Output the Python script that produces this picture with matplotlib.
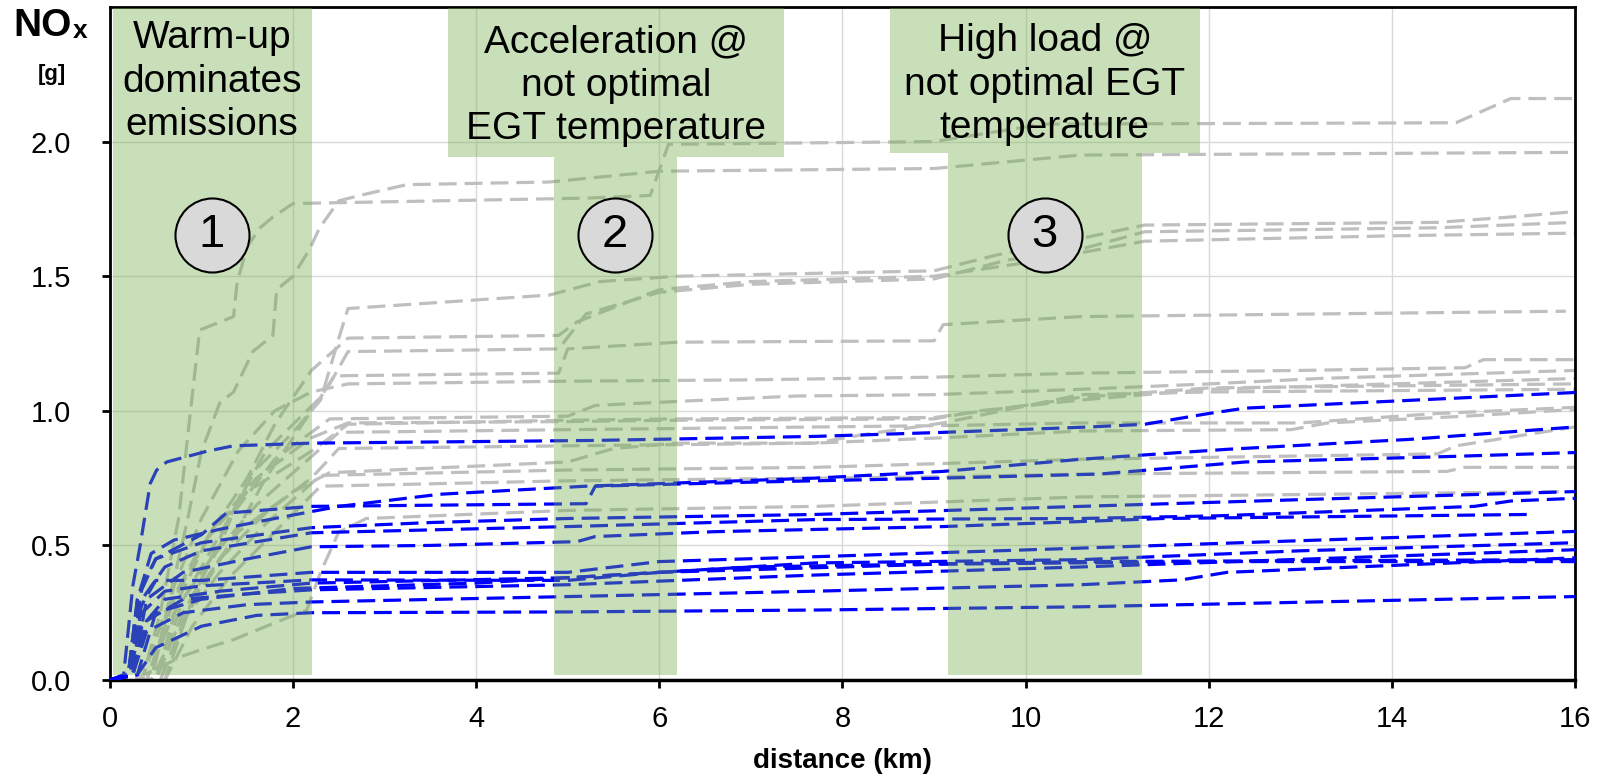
import matplotlib.pyplot as plt
from matplotlib.patches import Rectangle

plt.rcParams['font.family'] = ['Liberation Sans', 'DejaVu Sans']

# Data: cumulative NOx (g) vs distance (km), one list of (km, g) points per trip
gray_runs = [
    [(0, 0), (0.35, 0), (0.55, 0.25), (0.75, 0.6), (0.87, 0.97), (0.98, 1.30), (1.35, 1.35), (1.39, 1.48),
     (1.5, 1.61), (1.64, 1.68), (1.78, 1.72), (2.0, 1.77), (5.2, 1.79), (5.9, 1.80), (6.1, 1.99), (9.0, 2.0),
     (10.2, 2.065), (14.7, 2.07), (15.3, 2.16), (16, 2.16)],
    [(0, 0), (0.45, 0), (0.65, 0.3), (0.85, 0.6), (1.0, 0.85), (1.2, 1.03), (1.35, 1.07), (1.56, 1.22),
     (1.78, 1.28), (1.82, 1.45), (2.0, 1.50), (2.18, 1.60), (2.29, 1.68), (2.5, 1.78), (2.73, 1.80),
     (3.24, 1.84), (4.8, 1.85), (6.0, 1.89), (9.0, 1.90), (10.6, 1.95), (16, 1.96)],
    [(0, 0), (0.5, 0), (0.75, 0.3), (1.1, 0.55), (1.5, 0.75), (2.0, 0.92), (2.3, 1.04), (2.5, 1.27),
     (2.6, 1.38), (4.8, 1.43), (5.35, 1.48), (6.2, 1.50), (9.0, 1.52), (9.7, 1.58), (10.6, 1.64),
     (11.3, 1.69), (14.5, 1.70), (15.3, 1.72), (16, 1.74)],
    [(0, 0), (0.5, 0), (0.8, 0.25), (1.2, 0.5), (1.5, 0.75), (1.8, 0.95), (2.2, 1.15), (2.6, 1.27),
     (4.9, 1.28), (5.1, 1.33), (6.0, 1.45), (7, 1.48), (9.0, 1.50), (10.0, 1.55), (11.3, 1.63),
     (14, 1.65), (16, 1.66)],
    [(0, 0), (0.55, 0), (0.85, 0.25), (1.3, 0.5), (1.7, 0.75), (2.1, 0.95), (2.4, 1.10), (2.6, 1.22),
     (4.9, 1.23), (5.2, 1.36), (6.0, 1.44), (7, 1.47), (9.0, 1.49), (9.8, 1.56), (10.6, 1.60),
     (11.3, 1.665), (14.5, 1.68), (16, 1.70)],
    [(0, 0), (0.6, 0), (0.9, 0.3), (1.3, 0.6), (1.7, 0.85), (2.0, 0.95), (2.3, 1.05), (2.45, 1.13),
     (4.9, 1.14), (5.0, 1.23), (6.2, 1.255), (9.0, 1.26), (9.1, 1.32), (10.6, 1.35), (15.9, 1.37)],
    [(0, 0), (0.45, 0), (0.7, 0.35), (1.0, 0.6), (1.4, 0.85), (1.8, 1.0), (2.2, 1.07), (2.6, 1.10),
     (5, 1.11), (7, 1.115), (9, 1.125), (10.6, 1.14), (13, 1.15), (14.8, 1.16), (15.0, 1.19), (16, 1.19)],
    [(0, 0), (0.5, 0), (0.8, 0.3), (1.3, 0.6), (1.8, 0.82), (2.2, 0.92), (2.4, 0.97), (5.0, 0.98),
     (5.3, 1.02), (6.2, 1.035), (7.5, 1.055), (9, 1.06), (10.6, 1.08), (12, 1.10), (13.2, 1.12), (16, 1.15)],
    [(0, 0), (0.4, 0), (0.7, 0.3), (1.1, 0.55), (1.6, 0.75), (2.2, 0.9), (2.6, 0.955), (5, 0.96),
     (6.2, 0.965), (9, 0.97), (9.5, 1.0), (10.6, 1.04), (12, 1.08), (14, 1.10), (16, 1.12)],
    [(0, 0), (0.35, 0), (0.6, 0.25), (1.0, 0.5), (1.5, 0.7), (2.2, 0.85), (2.6, 0.95), (5, 0.965),
     (6.2, 0.97), (9, 0.975), (10, 1.02), (10.6, 1.05), (12, 1.085), (16, 1.10)],
    [(0, 0), (0.55, 0), (0.9, 0.3), (1.4, 0.55), (2.0, 0.7), (2.4, 0.77), (5.0, 0.81), (5.5, 0.86),
     (6.2, 0.88), (7.7, 0.88), (8.2, 0.91), (9.1, 0.955), (10.6, 1.06), (12, 1.07), (16, 1.08)],
    [(0, 0), (0.4, 0), (0.7, 0.25), (1.1, 0.45), (1.6, 0.65), (2.1, 0.8), (2.5, 0.92), (5, 0.93),
     (9.1, 0.945), (10.6, 0.955), (13, 0.955), (14.5, 0.99), (16, 1.013)],
    [(0, 0), (0.5, 0), (0.8, 0.25), (1.2, 0.45), (1.7, 0.62), (2.2, 0.75), (2.5, 0.86), (5, 0.87),
     (7.7, 0.88), (9.1, 0.90), (10.6, 0.925), (12.9, 0.93), (13.3, 0.955), (14.8, 0.98), (16, 1.005)],
    [(0, 0), (0.45, 0), (0.75, 0.2), (1.2, 0.4), (1.7, 0.58), (2.3, 0.76), (5, 0.78), (7.7, 0.79),
     (10.6, 0.82), (14.5, 0.84), (14.7, 0.87), (16, 0.94)],
    [(0, 0), (0.6, 0), (0.9, 0.2), (1.3, 0.38), (1.8, 0.55), (2.3, 0.72), (5, 0.74), (9.1, 0.755),
     (10.6, 0.765), (14.6, 0.775), (14.8, 0.79), (16, 0.79)],
    [(0, 0), (0.25, 0), (0.5, 0.04), (0.8, 0.09), (1.06, 0.12), (1.35, 0.15), (1.71, 0.2), (2.15, 0.26),
     (2.3, 0.40), (2.5, 0.55), (2.8, 0.60), (5, 0.63), (7.7, 0.645), (10.6, 0.68), (15.9, 0.70)],
]

blue_runs = [
    [(0, 0), (0.15, 0.02), (0.25, 0.35), (0.33, 0.5), (0.44, 0.73), (0.51, 0.78), (0.62, 0.81),
     (1.06, 0.85), (1.35, 0.87), (2.2, 0.88), (5.3, 0.89), (7.7, 0.905), (9.1, 0.92), (10.7, 0.94),
     (11.3, 0.95), (12.0, 0.99), (12.4, 1.01), (16, 1.068)],
    [(0, 0), (0.2, 0.02), (0.3, 0.3), (0.45, 0.47), (0.7, 0.52), (1.2, 0.56), (1.8, 0.60), (2.5, 0.645),
     (3.6, 0.69), (5.2, 0.72), (7.7, 0.75), (9.1, 0.775), (10.6, 0.82), (12.2, 0.857), (14.2, 0.894),
     (16, 0.94)],
    [(0, 0), (0.22, 0.02), (0.35, 0.35), (0.5, 0.45), (1.0, 0.54), (1.27, 0.62), (2.2, 0.645),
     (5.2, 0.655), (5.3, 0.72), (7.0, 0.735), (9.1, 0.75), (10.8, 0.765), (12.4, 0.81), (14.6, 0.83),
     (16, 0.845)],
    [(0, 0), (0.2, 0.02), (0.3, 0.3), (0.5, 0.45), (1.0, 0.51), (2.2, 0.566), (3.5, 0.585), (5.0, 0.60),
     (7.7, 0.615), (10.6, 0.645), (13, 0.67), (16, 0.70)],
    [(0, 0), (0.25, 0.02), (0.35, 0.3), (0.6, 0.42), (1.0, 0.48), (2.2, 0.547), (5.0, 0.57),
     (7.7, 0.596), (10.6, 0.60), (12.1, 0.61), (14.9, 0.645), (15.3, 0.665), (16, 0.675)],
    [(0, 0), (0.25, 0.02), (0.4, 0.3), (0.8, 0.40), (1.5, 0.45), (2.2, 0.495), (3.5, 0.50), (5.1, 0.514),
     (5.3, 0.533), (6.6, 0.551), (9.1, 0.57), (11.5, 0.60), (15.5, 0.615)],
    [(0, 0), (0.2, 0.02), (0.3, 0.25), (0.5, 0.37), (1.0, 0.37), (2.2, 0.40), (5.0, 0.40), (6.0, 0.44),
     (7.7, 0.458), (10.6, 0.49), (16, 0.552)],
    [(0, 0), (0.2, 0.02), (0.35, 0.25), (0.6, 0.33), (1.0, 0.35), (2.2, 0.372), (5.0, 0.37), (6.0, 0.40),
     (7.7, 0.435), (10.6, 0.447), (13, 0.48), (16, 0.51)],
    [(0, 0), (0.25, 0.02), (0.4, 0.22), (0.8, 0.30), (1.5, 0.32), (2.2, 0.335), (5.0, 0.354),
     (7.7, 0.39), (10.6, 0.42), (16, 0.484)],
    [(0, 0), (0.25, 0.02), (0.4, 0.18), (0.8, 0.25), (1.5, 0.28), (2.2, 0.29), (5.0, 0.31), (7.7, 0.33),
     (10.6, 0.354), (11.7, 0.372), (12.2, 0.40), (16, 0.454)],
    [(0, 0), (0.3, 0.02), (0.5, 0.12), (1.0, 0.20), (1.6, 0.24), (2.2, 0.25), (5.0, 0.253), (7.7, 0.26),
     (10.6, 0.272), (16, 0.31)],
    [(0, 0), (0.2, 0.02), (0.35, 0.2), (0.6, 0.30), (1.2, 0.33), (2.2, 0.36), (5.0, 0.38), (7.0, 0.42),
     (10.6, 0.44), (16, 0.447)],
    [(0, 0), (0.3, 0.02), (0.5, 0.25), (1.0, 0.30), (2.0, 0.34), (4.0, 0.36), (6.0, 0.40), (9.0, 0.43),
     (12, 0.44), (16, 0.44)],
]

# Highlighted phases
panel_left = [0.03, 3.69, 8.52]
panel_right = [2.21, 7.36, 11.91]
panel_bottom = [0.019, 1.944, 1.959]
strip_left = [0.03, 4.85, 9.15]
strip_right = [2.21, 6.19, 11.27]
panel_text = ["Warm-up\ndominates\nemissions",
              "Acceleration @\nnot optimal\nEGT temperature",
              "High load @\nnot optimal EGT\ntemperature"]
text_x = [1.114, 5.526, 10.21]
text_y = [2.222, 2.208, 2.212]
marker_x = [1.114, 5.516, 10.21]
marker_y = [1.654, 1.654, 1.654]
marker_label = ["1", "2", "3"]

x_ticks = [0, 2, 4, 6, 8, 10, 12, 14, 16]
y_ticks = [0.0, 0.5, 1.0, 1.5, 2.0]

fig = plt.figure(figsize=(15.98, 7.77), dpi=100)
ax = fig.add_axes([0.0688, 0.1248, 0.9168, 0.8662])

for run in gray_runs:
    xs, ys = zip(*run)
    ax.plot(xs, ys, color='#bfbfbf', lw=2.3, dashes=(5.6, 2.5), zorder=2)
for run in blue_runs:
    xs, ys = zip(*run)
    ax.plot(xs, ys, color='#0000ff', lw=2.3, dashes=(5.6, 2.5), zorder=3)

# translucent green phase boxes on top of the lines
top = 2.495
for i in range(3):
    ax.add_patch(Rectangle((panel_left[i], panel_bottom[i]), panel_right[i] - panel_left[i],
                           top - panel_bottom[i], facecolor='#70ad47', alpha=0.38, lw=0, zorder=4))
    if panel_bottom[i] > 0.1:
        ax.add_patch(Rectangle((strip_left[i], 0.019), strip_right[i] - strip_left[i],
                               panel_bottom[i] - 0.019, facecolor='#70ad47', alpha=0.38, lw=0, zorder=4))
    ax.text(text_x[i], text_y[i], panel_text[i], ha='center', va='center', fontsize=28,
            linespacing=1.27, zorder=6)

ax.scatter(marker_x, marker_y, s=2840, facecolor='#d9d9d9', edgecolor='black', lw=1.5, zorder=5)
for x, y, lab in zip(marker_x, marker_y, marker_label):
    ax.text(x, y, lab, ha='center', va='center', fontsize=34, zorder=6)

ax.set_xlim(0, 16)
ax.set_ylim(0, 2.5)
ax.set_xticks(x_ticks)
ax.set_yticks(y_ticks)
ax.set_yticklabels([f"{v:.1f}" for v in y_ticks])
ax.tick_params(axis='both', labelsize=21, length=6, width=2, direction='out')
ax.tick_params(axis='y', pad=22)
ax.tick_params(axis='x', pad=12)
ax.grid(True, color='#d9d9d9', lw=1)
ax.set_axisbelow(True)
for side in ['left', 'right', 'top']:
    ax.spines[side].set_linewidth(2)
ax.spines['bottom'].set_linewidth(2.5)

ax.set_xlabel('distance (km)', fontsize=20, fontweight='bold', labelpad=11)
fig.text(0.0081, 0.9537, 'NO', fontsize=28, fontweight='bold', va='baseline')
fig.text(0.0455, 0.951, 'x', fontsize=19, fontweight='bold', va='baseline')
fig.text(0.0325, 0.9035, '[g]', fontsize=16, fontweight='bold', ha='center', va='center')

fig.savefig('out.png', dpi=100)
